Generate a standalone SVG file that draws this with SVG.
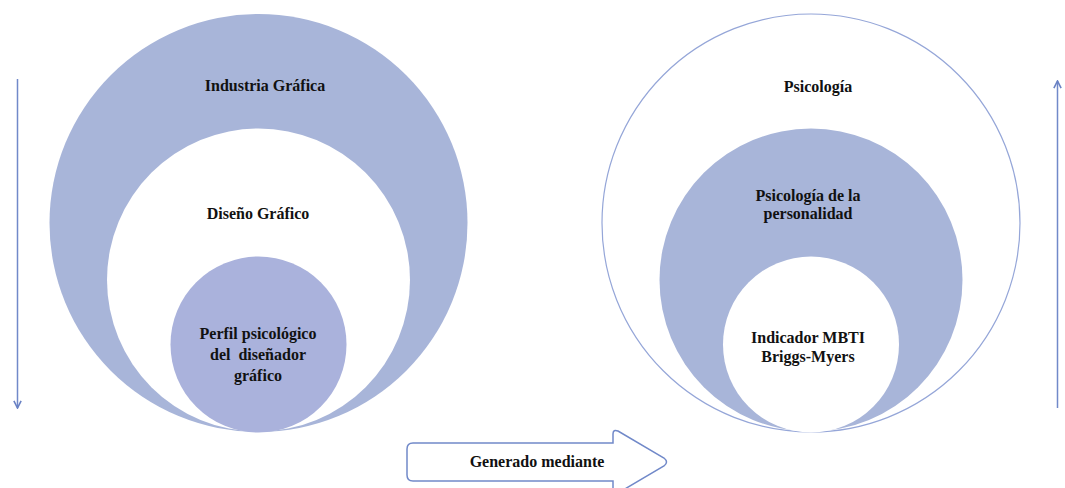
<svg xmlns="http://www.w3.org/2000/svg" width="1065" height="488" viewBox="0 0 1065 488">
<style>
.t{font-family:"Liberation Serif","Times New Roman",serif;font-weight:bold;font-size:16px;fill:#111;text-anchor:middle}
.ln{stroke:#7189c9;stroke-width:1.5;fill:none}
</style>
<defs>
<marker id="ah" viewBox="0 0 10 10" refX="9" refY="5" markerWidth="9" markerHeight="9" markerUnits="userSpaceOnUse" orient="auto">
<path d="M1,1 L9,5 L1,9" fill="none" stroke="#6a82c4" stroke-width="1.8"/>
</marker>
</defs>
<rect width="1065" height="488" fill="#fff"/>
<g id="industria">
<circle cx="258.5" cy="223" r="209" fill="#a8b5d9"/>
<text class="t" x="265" y="91">Industria Gráfica</text>
</g>
<g id="diseno">
<circle cx="258.5" cy="280" r="151.5" fill="#fff"/>
<text class="t" x="258" y="219">Diseño Gráfico</text>
</g>
<g id="perfil">
<circle cx="258.5" cy="344.5" r="88" fill="#aab2dc"/>
<text class="t" x="258" y="339">Perfil psicológico</text>
<text class="t" x="258" y="360" xml:space="preserve">del  diseñador</text>
<text class="t" x="258" y="381">gráfico</text>
</g>
<g id="psicologia">
<circle cx="811" cy="223" r="209" fill="#fff" stroke="#95a6d8" stroke-width="1.2"/>
<text class="t" x="818" y="92">Psicología</text>
</g>
<g id="personalidad">
<circle cx="811" cy="280" r="151.5" fill="#a8b5d9"/>
<text class="t" x="808" y="201">Psicología de la</text>
<text class="t" x="808" y="219">personalidad</text>
</g>
<g id="mbti">
<circle cx="811" cy="344.5" r="88" fill="#fff"/>
<text class="t" x="808" y="343">Indicador MBTI</text>
<text class="t" x="808" y="362">Briggs-Myers</text>
</g>
<g id="generado">
<path d="M413,443 L613,443 L613,434 Q613,429 618,431 L664,458 Q669,462 664,466 L618,493 L613,495 L613,481 L413,481 Q407,481 407,475 L407,449 Q407,443 413,443 Z" fill="#fff" stroke="#7189c9" stroke-width="1.5"/>
<text class="t" x="537" y="467">Generado mediante</text>
</g>
<g id="connectors">
<line class="ln" x1="17.5" y1="79" x2="17.5" y2="408" marker-end="url(#ah)"/>
<line class="ln" x1="1057.5" y1="408" x2="1057.5" y2="81" marker-end="url(#ah)"/>
</g>
</svg>
